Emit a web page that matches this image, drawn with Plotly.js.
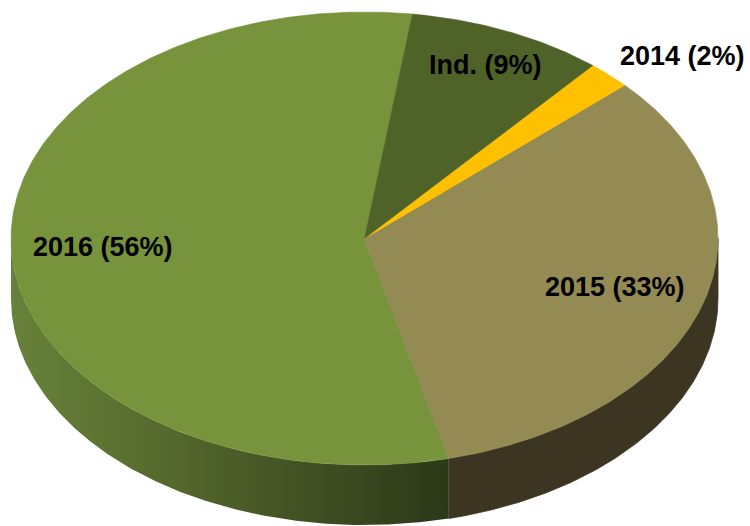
<!DOCTYPE html>
<html>
<head>
<meta charset="utf-8">
<script src="https://cdn.plot.ly/plotly-3.0.1.min.js"></script>
<style>html,body{margin:0;padding:0;background:#fff;}#chart{width:750px;height:526px;}</style>
</head>
<body>
<div id="chart"></div>
<script>
// ---- data ----
const labels = ["2016", "2015", "2014", "Ind."];
const values = [56, 33, 2, 9];

// ---- style ----
const topColors = ["#77933C", "#948A54", "#FFC000", "#4F6228"];
const sideColors = ["#4f6229", "#3c3522", "#a07800", "#323e19"];
const labelRadius = [0.74, 0.74, 1.02, 0.84];
const labelOutside = [false, false, true, false];

const W = 750, H = 526;
const cx = 364.5, cy = 238.5, rx = 353.5, ry = 226.5, depth = 60;
const startDeg = 82.2; // counter-clockwise

const total = values.reduce((a, b) => a + b, 0);
const rad = d => d * Math.PI / 180;
const px = (t, r) => cx + rx * r * Math.cos(rad(t));
const py = (t, r, dz) => cy - ry * r * Math.sin(rad(t)) + (dz || 0);

// slice angular ranges
const ranges = [];
let acc = startDeg;
values.forEach(v => {
  const span = v / total * 360;
  ranges.push([acc, acc + span]);
  acc += span;
});

const traces = [];

// side walls (front half only)
ranges.forEach((rg, i) => {
  [[180, 360], [540, 720]].forEach(f => {
    const a = Math.max(rg[0], f[0]), b = Math.min(rg[1], f[1]);
    if (b <= a) return;
    const xs = [], ys = [];
    const n = Math.max(8, Math.ceil((b - a) * 2));
    for (let k = 0; k <= n; k++) { const t = a + (b - a) * k / n; xs.push(px(t, 1)); ys.push(py(t, 1)); }
    for (let k = n; k >= 0; k--) { const t = a + (b - a) * k / n; xs.push(px(t, 1)); ys.push(py(t, 1, depth)); }
    const tr = {
      type: "scatter", mode: "lines", x: xs, y: ys, fill: "toself",
      fillcolor: sideColors[i], line: { width: 0.8, color: sideColors[i] },
      hoverinfo: "skip", showlegend: false
    };
    if (i === 0) {
      tr.fillgradient = { type: "horizontal", colorscale: [[0, "#67823a"], [0.35, "#56692d"], [0.7, "#3f4f22"], [1, "#2c3817"]] };
      tr.line = { width: 0 };
    }
    traces.push(tr);
  });
});

// top faces
ranges.forEach((rg, i) => {
  const xs = [cx], ys = [cy];
  const a = rg[0], b = rg[1];
  const n = Math.max(6, Math.ceil((b - a) * 2));
  for (let k = 0; k <= n; k++) { const t = a + (b - a) * k / n; xs.push(px(t, 1)); ys.push(py(t, 1)); }
  xs.push(cx); ys.push(cy);
  traces.push({
    type: "scatter", mode: "lines", x: xs, y: ys, fill: "toself",
    fillcolor: topColors[i], line: { width: 0.6, color: topColors[i] },
    hoverinfo: "skip", showlegend: false
  });
});

// labels
const annotations = ranges.map((rg, i) => {
  const mid = (rg[0] + rg[1]) / 2;
  const pct = Math.round(values[i] / total * 100);
  const a = {
    x: px(mid, labelRadius[i]), y: py(mid, labelRadius[i]),
    xref: "x", yref: "y", showarrow: false,
    text: labels[i] + " (" + pct + "%)",
    font: { family: "Liberation Sans, Arial, sans-serif", size: 27, color: "#000", weight: 700 },
    xanchor: "center", yanchor: "middle"
  };
  if (labelOutside[i]) { a.xanchor = "left"; a.yanchor = "bottom"; a.xshift = 4; a.yshift = -1; }
  return a;
});

Plotly.newPlot("chart", traces, {
  width: W, height: H,
  margin: { l: 0, r: 0, t: 0, b: 0, pad: 0 },
  paper_bgcolor: "#fff", plot_bgcolor: "#fff",
  xaxis: { range: [0, W], visible: false, fixedrange: true },
  yaxis: { range: [H, 0], visible: false, fixedrange: true },
  showlegend: false,
  annotations: annotations
}, { staticPlot: true, displayModeBar: false });
</script>
</body>
</html>
